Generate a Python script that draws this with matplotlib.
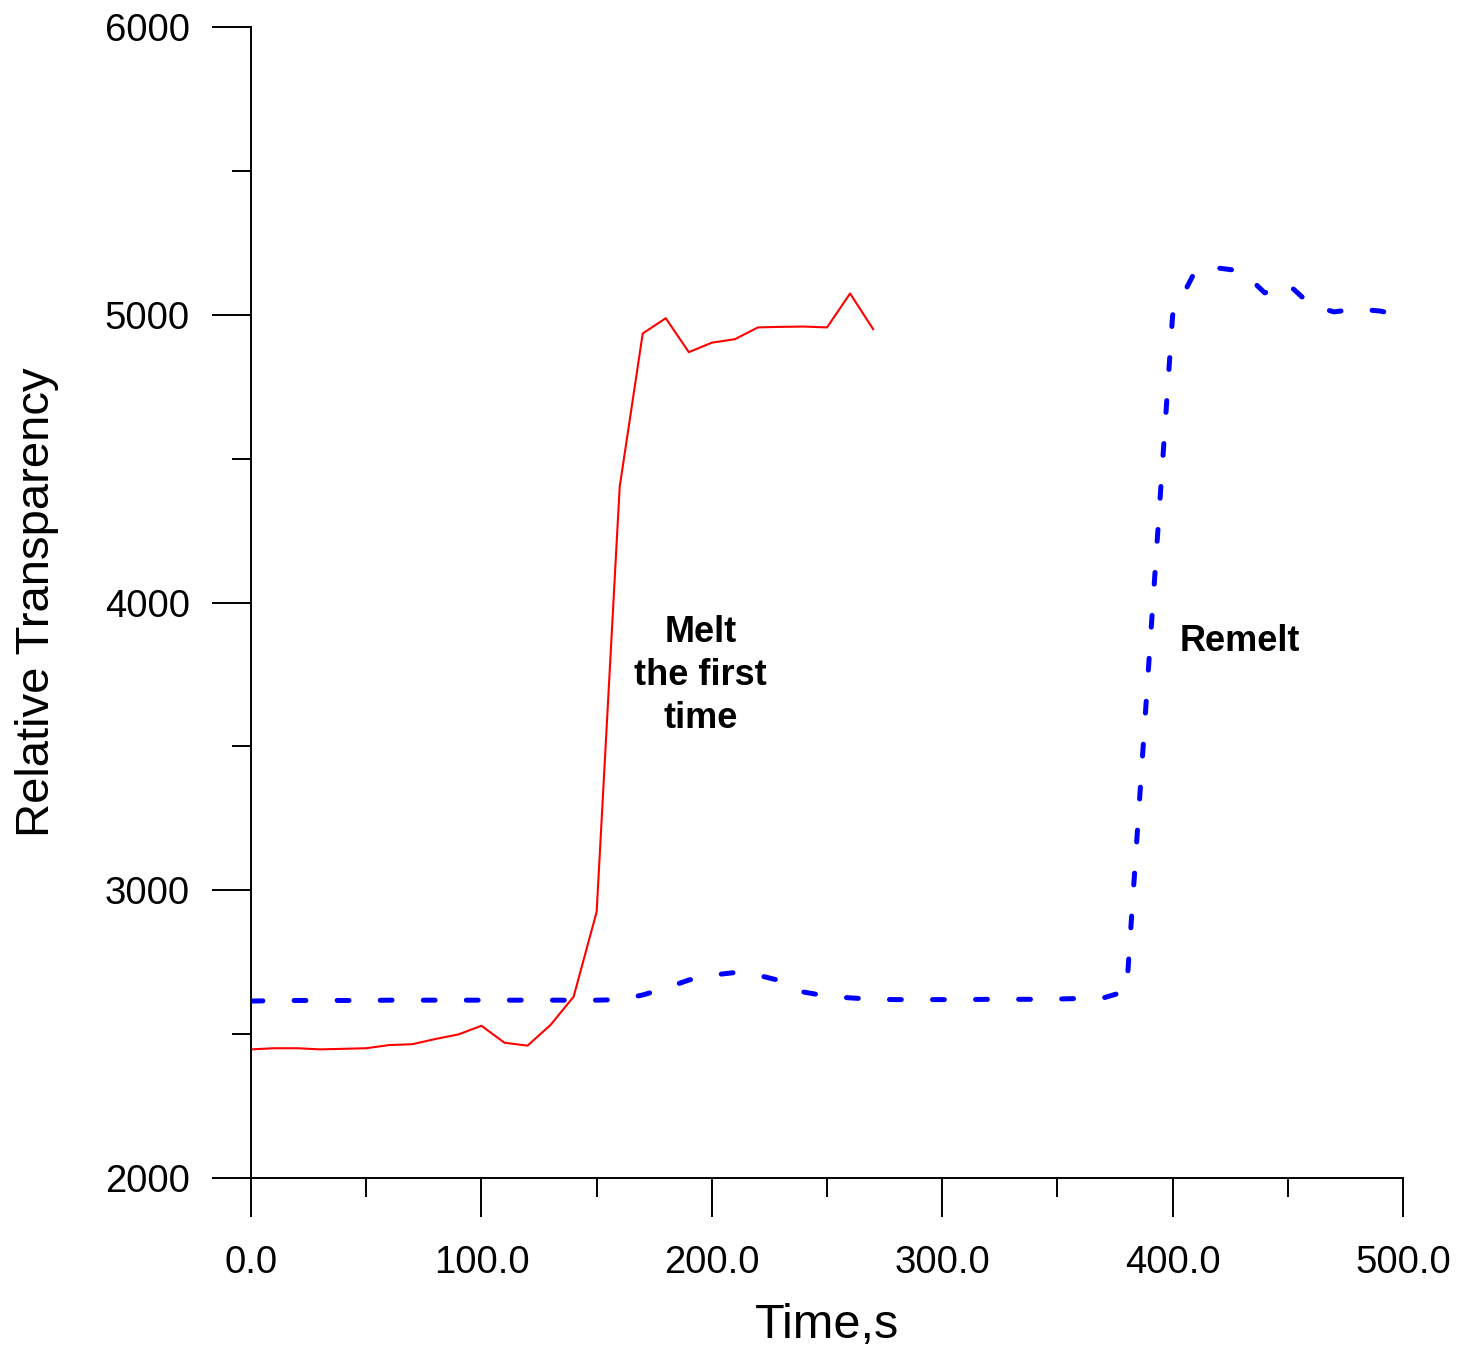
import matplotlib
matplotlib.use("Agg")
import matplotlib.pyplot as plt
from matplotlib.ticker import MultipleLocator, FormatStrFormatter

plt.rcParams['font.family'] = ['Liberation Sans', 'DejaVu Sans']
plt.rcParams['lines.scale_dashes'] = False

# First melt: transparency sampled every 10 s
melt_time = [0, 10, 20, 30, 40, 50, 60, 70, 80, 90, 100, 110, 120, 130, 140,
             150, 160, 170, 180, 190, 200, 210, 220, 230, 240, 250, 260, 270]
melt_value = [2447, 2451, 2451, 2447, 2449, 2451, 2462, 2465, 2483, 2499, 2529,
              2470, 2460, 2532, 2630, 2925, 4402, 4935, 4988, 4870, 4903, 4915,
              4956, 4958, 4959, 4956, 5074, 4950]

# Remelt: transparency sampled every 10 s
remelt_time = list(range(0, 510, 10))
remelt_value = [2615, 2616, 2617, 2617, 2617, 2617, 2618, 2618, 2618, 2618, 2618,
                2618, 2618, 2618, 2618, 2618, 2620, 2636, 2660, 2688, 2705, 2714,
                2705, 2685, 2646, 2632, 2626, 2621, 2620, 2620, 2620, 2620, 2621,
                2621, 2621, 2622, 2624, 2626, 2650, 3830, 4999, 5155, 5162, 5152,
                5076, 5107, 5034, 5010, 5020, 5013, 4996]

fig = plt.figure(figsize=(14.69, 13.53), dpi=100)
ax = fig.add_axes([0.1709, 0.12934, 0.9551 - 0.1709, 0.98004 - 0.12934])

ax.plot(melt_time, melt_value, color='#ff0000', lw=1.5)
ax.plot(remelt_time, remelt_value, color='#0000ff', lw=3.6,
        dashes=(8.5, 22.5), dash_capstyle='round')

ax.set_xlim(0, 500)
ax.set_ylim(2000, 6000)

for side in ('top', 'right'):
    ax.spines[side].set_visible(False)
for side in ('left', 'bottom'):
    ax.spines[side].set_linewidth(1.4)

ax.xaxis.set_major_locator(MultipleLocator(100))
ax.xaxis.set_minor_locator(MultipleLocator(50))
ax.xaxis.set_major_formatter(FormatStrFormatter('%.1f'))
ax.yaxis.set_major_locator(MultipleLocator(1000))
ax.yaxis.set_minor_locator(MultipleLocator(500))

ax.tick_params(axis='both', which='major', length=28, width=1.4, direction='out',
               labelsize=27.5)
ax.tick_params(axis='both', which='minor', length=13.7, width=1.4, direction='out')
ax.tick_params(axis='x', which='major', pad=20)
ax.tick_params(axis='y', which='major', pad=16)

ax.set_xlabel('Time,s', fontsize=35, labelpad=16)
ax.set_ylabel('Relative Transparency', fontsize=34, labelpad=33)

ax.text(195, 3745, 'Melt\nthe first\ntime', fontsize=26, fontweight='bold',
        ha='center', va='center', multialignment='center', linespacing=1.3)
ax.text(403, 3866, 'Remelt', fontsize=26, fontweight='bold',
        ha='left', va='center')

fig.savefig('out.png', dpi=100)
